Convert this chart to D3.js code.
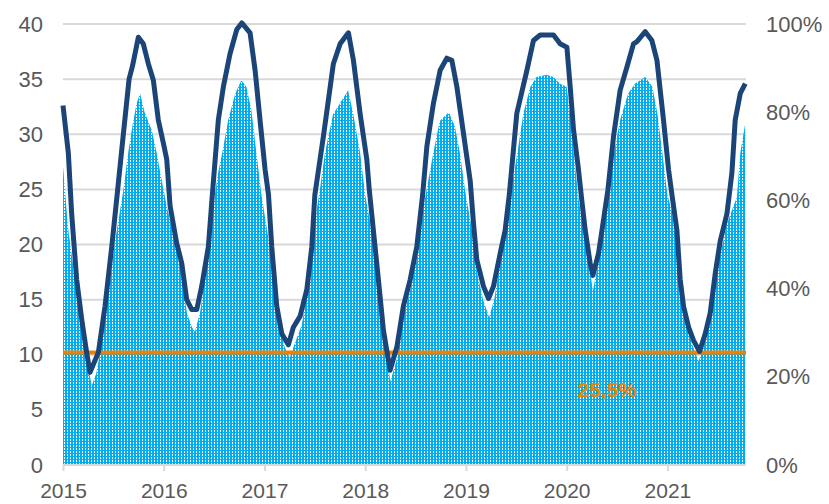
<!DOCTYPE html>
<html>
<head>
<meta charset="utf-8">
<script src="https://cdn.jsdelivr.net/npm/d3@7"></script>
<style>
  body { margin: 0; background: #fff; }
  text { font-family: "Liberation Sans", Arial, sans-serif; }
</style>
</head>
<body>
<div id="chart"></div>
<script>
// time in decimal years since 2015, values on the left axis (0-40)
var lineT = [0, .053, .086, .136, .186, .235, .268, .351, .417, .484, .543, .599, .656, .69, .748, .797, .847, .897, .946, .996, 1.030, 1.063, 1.129, 1.179, 1.228, 1.278, 1.328, 1.377, 1.443, 1.478, 1.542, 1.592, 1.658, 1.725, 1.775, 1.857, 1.907, 1.956, 2.006, 2.04, 2.072, 2.122, 2.172, 2.237, 2.287, 2.354, 2.420, 2.470, 2.50, 2.585, 2.684, 2.751, 2.833, 2.883, 2.949, 3.016, 3.04, 3.081, 3.131, 3.181, 3.247, 3.314, 3.379, 3.446, 3.512, 3.57, 3.612, 3.677, 3.744, 3.810, 3.860, 3.910, 3.975, 4.042, 4.075, 4.108, 4.174, 4.224, 4.273, 4.340, 4.389, 4.43, 4.505, 4.605, 4.670, 4.737, 4.803, 4.869, 4.935, 5.002, 5.035, 5.068, 5.117, 5.15, 5.184, 5.233, 5.260, 5.316, 5.365, 5.41, 5.465, 5.531, 5.598, 5.663, 5.697, 5.780, 5.846, 5.896, 5.961, 6.011, 6.045, 6.094, 6.127, 6.160, 6.210, 6.259, 6.319, 6.375, 6.425, 6.475, 6.524, 6.591, 6.64, 6.673, 6.723, 6.773];
var lineV = [32.6, 28.3, 22.8, 16.8, 13.2, 10.2, 8.4, 10.2, 14.4, 19.8, 25.0, 30.0, 35.0, 36.2, 38.8, 38.2, 36.4, 34.9, 31.3, 29.2, 27.7, 23.5, 20.1, 18.3, 15.0, 14.1, 14.1, 16.2, 19.8, 24.0, 31.3, 34.3, 37.3, 39.5, 40.1, 39.2, 35.8, 31.3, 26.8, 24.5, 19.8, 14.4, 11.9, 10.9, 12.5, 13.5, 15.9, 19.8, 24.5, 29.8, 36.4, 38.2, 39.2, 36.7, 31.9, 27.7, 25.0, 21.3, 16.8, 12.2, 8.6, 10.7, 14.4, 16.8, 19.8, 24.5, 28.9, 32.8, 35.8, 36.9, 36.7, 34.3, 30.1, 25.8, 21.9, 18.6, 16.2, 15.1, 16.2, 19.2, 21.3, 24.5, 31.9, 35.8, 38.5, 39.0, 39.0, 39.0, 38.2, 37.9, 34.3, 30.4, 26.8, 24.0, 21.3, 18.3, 17.2, 19.2, 22.2, 25.0, 29.8, 34.0, 36.1, 38.2, 38.4, 39.3, 38.5, 36.7, 31.3, 26.8, 24.5, 21.3, 16.8, 14.4, 12.5, 11.3, 10.3, 11.9, 13.8, 17.4, 20.3, 22.8, 26.5, 31.3, 33.7, 34.6];

var areaT = [0, .05, .12, .19, .25, .285, .33, .38, .45, .52, .60, .65, .69, .73, .765, .81, .88, .93, .98, 1.03, 1.11, 1.16, 1.23, 1.28, 1.31, 1.36, 1.43, 1.48, 1.54, 1.58, 1.64, 1.71, 1.77, 1.82, 1.87, 1.92, 1.97, 2.04, 2.09, 2.14, 2.20, 2.25, 2.30, 2.37, 2.44, 2.49, 2.55, 2.60, 2.68, 2.77, 2.83, 2.88, 2.95, 3.00, 3.07, 3.13, 3.18, 3.25, 3.32, 3.38, 3.45, 3.52, 3.58, 3.63, 3.68, 3.74, 3.83, 3.89, 3.94, 3.99, 4.06, 4.11, 4.17, 4.23, 4.28, 4.34, 4.40, 4.46, 4.51, 4.57, 4.64, 4.70, 4.80, 4.87, 4.93, 5.00, 5.04, 5.07, 5.12, 5.17, 5.22, 5.26, 5.30, 5.37, 5.42, 5.47, 5.53, 5.61, 5.68, 5.78, 5.85, 5.90, 5.95, 6.00, 6.045, 6.094, 6.127, 6.176, 6.243, 6.309, 6.375, 6.441, 6.508, 6.591, 6.69, 6.723, 6.773];
var areaV = [27.1, 21.5, 16.8, 12.9, 8.9, 7.2, 8.3, 10.8, 15.5, 20.5, 25.0, 28.5, 30.8, 32.8, 33.7, 32.0, 30.4, 28.3, 25.8, 23.5, 20.4, 18.3, 13.8, 12.5, 12.1, 13.8, 18.3, 22.8, 26.5, 28.3, 31.3, 33.7, 34.9, 34.3, 32.2, 28.3, 24.5, 20.5, 16.8, 13.2, 10.7, 9.7, 11.0, 12.7, 16.5, 21.5, 25.0, 28.3, 31.8, 33.1, 34.0, 31.9, 28.3, 24.5, 21.0, 16.5, 12.0, 7.6, 9.8, 13.5, 16.0, 19.0, 23.5, 26.0, 28.5, 31.2, 32.0, 30.7, 28.3, 25.0, 21.3, 17.5, 15.0, 13.4, 15.0, 18.3, 22.0, 25.5, 28.3, 31.9, 34.3, 35.2, 35.4, 35.2, 34.6, 34.3, 31.3, 28.3, 24.0, 21.3, 18.3, 15.8, 17.7, 21.3, 24.3, 28.3, 31.3, 33.7, 34.6, 35.2, 34.3, 31.9, 28.3, 24.5, 23.0, 19.8, 15.9, 13.2, 11.0, 9.4, 11.3, 14.7, 18.3, 21.9, 24.3, 28.3, 31.0];

var yearTicks = [2015, 2016, 2017, 2018, 2019, 2020, 2021];
var leftTicks = [0, 5, 10, 15, 20, 25, 30, 35, 40];
var rightTicks = [0, 0.2, 0.4, 0.6, 0.8, 1.0];
var threshold = 0.255; // orange reference line, share of right axis
var thresholdLabel = "25,5%";

var width = 829, height = 504;
var x0 = 63, x1 = 746, yTop = 24, yBottom = 465;

var navy = "#1B4479", cyan = "#00ADEE", orange = "#F08100", grid = "#D9D9D9", labelColor = "#595959";
var fontSize = 22;

var svg = d3.select("#chart").append("svg")
  .attr("width", width)
  .attr("height", height);

var x = d3.scaleLinear().domain([2015, 2015 + 6.78]).range([x0, x1]);
var y = d3.scaleLinear().domain([0, 40]).range([yBottom, yTop]);
var yR = d3.scaleLinear().domain([0, 1]).range([yBottom, yTop]);

// dotted fill for the area
var pat = svg.append("defs").append("pattern")
  .attr("id", "dots")
  .attr("patternUnits", "userSpaceOnUse")
  .attr("width", 3).attr("height", 3);
pat.append("rect").attr("width", 3).attr("height", 3).attr("fill", cyan);
pat.append("rect").attr("x", 1).attr("y", 1).attr("width", 1).attr("height", 2).attr("fill", "#fff");

// gridlines
svg.append("g")
  .selectAll("line")
  .data(leftTicks.filter(function(d) { return d > 0; }))
  .enter().append("line")
  .attr("x1", x0).attr("x2", x1)
  .attr("y1", function(d) { return y(d); })
  .attr("y2", function(d) { return y(d); })
  .attr("stroke", grid).attr("stroke-width", 2);

// area
var areaData = areaT.map(function(t, i) { return [2015 + t, areaV[i]]; });
svg.append("path")
  .datum(areaData)
  .attr("fill", "url(#dots)")
  .attr("d", d3.area()
    .x(function(d) { return x(d[0]); })
    .y0(y(0))
    .y1(function(d) { return y(d[1]); }));

// x axis (labels a bit smaller so they stay inside the frame)
var xAxis = svg.append("g")
  .attr("transform", "translate(0," + yBottom + ")")
  .call(d3.axisBottom(x).tickValues(yearTicks).tickFormat(d3.format("d")).tickSize(6).tickPadding(12));
xAxis.select(".domain").attr("stroke", grid).attr("stroke-width", 2).attr("d", "M" + x0 + ",0H" + x1);
xAxis.selectAll(".tick line").attr("stroke", grid).attr("stroke-width", 2);
xAxis.selectAll("text").attr("fill", labelColor).attr("font-size", 21).attr("font-family", "Liberation Sans, Arial, sans-serif");

// left axis
var yAxisL = svg.append("g")
  .attr("transform", "translate(" + x0 + ",0)")
  .call(d3.axisLeft(y).tickValues(leftTicks).tickSize(0).tickPadding(20));
yAxisL.select(".domain").remove();
yAxisL.selectAll("text").attr("fill", labelColor).attr("font-size", fontSize).attr("font-family", "Liberation Sans, Arial, sans-serif");

// right axis
var yAxisR = svg.append("g")
  .attr("transform", "translate(" + x1 + ",0)")
  .call(d3.axisRight(yR).tickValues(rightTicks).tickFormat(d3.format(".0%")).tickSize(0).tickPadding(20));
yAxisR.select(".domain").remove();
yAxisR.selectAll("text").attr("fill", labelColor).attr("font-size", fontSize).attr("font-family", "Liberation Sans, Arial, sans-serif");

// threshold line + label
svg.append("line")
  .attr("x1", x0).attr("x2", x1)
  .attr("y1", yR(threshold)).attr("y2", yR(threshold))
  .attr("stroke", orange).attr("stroke-width", 4);

svg.append("text")
  .attr("x", x(2020.4)).attr("y", yR(threshold) + 44)
  .attr("text-anchor", "middle")
  .attr("fill", orange)
  .attr("font-size", 21).attr("font-weight", "bold")
  .text(thresholdLabel);

// navy line
var lineData = lineT.map(function(t, i) { return [2015 + t, lineV[i]]; });
svg.append("path")
  .datum(lineData)
  .attr("fill", "none")
  .attr("stroke", navy)
  .attr("stroke-width", 5)
  .attr("stroke-linejoin", "round")
  .attr("d", d3.line()
    .x(function(d) { return x(d[0]); })
    .y(function(d) { return y(d[1]); }));
</script>
</body>
</html>
